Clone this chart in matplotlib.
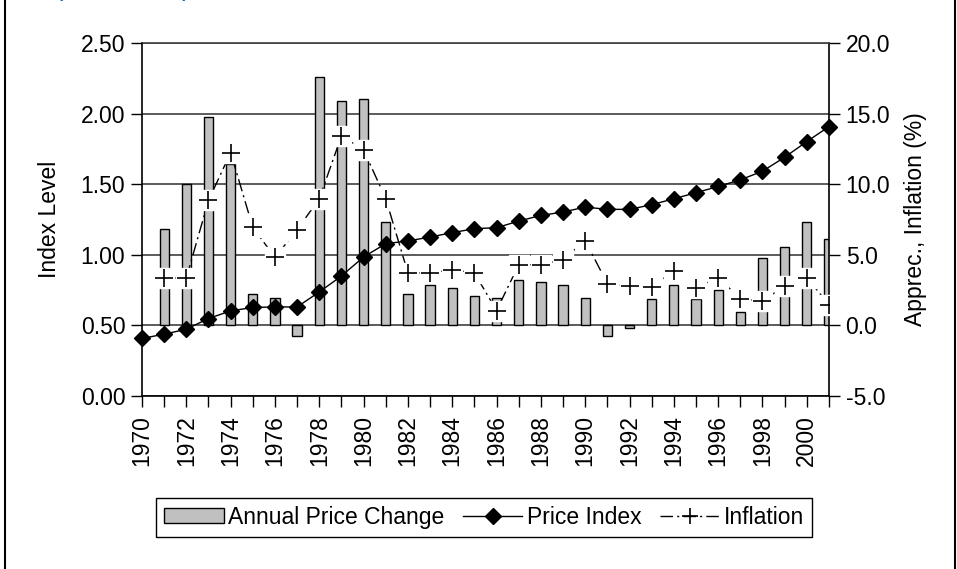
import matplotlib
matplotlib.use("Agg")
import matplotlib.pyplot as plt
from matplotlib.lines import Line2D
from matplotlib.patches import Patch

plt.rcParams['font.family'] = ['Liberation Sans', 'DejaVu Sans']

##data
years = list(range(1970, 2002))
price_index = [0.408, 0.438, 0.473, 0.549, 0.603, 0.627, 0.631, 0.631, 0.737, 0.850,
               0.985, 1.079, 1.098, 1.126, 1.157, 1.185, 1.192, 1.239, 1.279, 1.303,
               1.338, 1.322, 1.322, 1.355, 1.397, 1.440, 1.484, 1.531, 1.592, 1.691,
               1.802, 1.908]
change_years = list(range(1971, 2002))
annual_change = [6.8, 10.0, 14.75, 11.4, 2.26, 1.93, -0.78, 17.6, 15.9, 16.06,
                 7.35, 2.26, 2.83, 2.66, 2.07, 1.93, 3.23, 3.04, 2.83, 1.91,
                 -0.78, -0.21, 1.9, 2.86, 1.9, 2.5, 0.95, 4.81, 5.55, 7.29, 6.14]
inflation = [3.36, 3.36, 8.85, 12.24, 6.94, 4.82, 6.78, 8.97, 13.42, 12.43,
             8.97, 3.72, 3.72, 3.95, 3.72, 1.05, 4.3, 4.3, 4.66, 6.0,
             2.96, 2.77, 2.74, 3.86, 2.67, 3.38, 1.9, 1.71, 2.81, 3.38, 1.48]
left_ticks = [0.0, 0.5, 1.0, 1.5, 2.0, 2.5]
right_ticks = [-5, 0, 5, 10, 15, 20]

FS = 16.5
fig = plt.figure(figsize=(9.57, 5.69), dpi=100)
ax = fig.add_axes([0.1484, 0.304, 0.7178, 0.6204])
axp = ax.twinx()
axi = ax.twinx()

##bars on the % scale (bottom layer)
ax.bar(change_years, annual_change, width=0.42, color='#c0c0c0',
       edgecolor='black', linewidth=1.0, zorder=2)
ax.set_ylim(-5, 20)
ax.set_yticks(right_ticks)
ax.set_yticklabels(['%.1f' % t for t in right_ticks])
ax.yaxis.tick_right()
ax.yaxis.set_label_position('right')
ax.set_ylabel('Apprec., Inflation (%)', fontsize=FS, labelpad=10)
ax.grid(axis='y', color='#404040', linewidth=1.2, zorder=1)
ax.set_axisbelow(True)

ax.set_xlim(1970, 2001)
ax.set_xticks(years)
ax.set_xticklabels([str(y) if (y % 2 == 0 and y <= 2000) else '' for y in years],
                   rotation=90)
ax.tick_params(axis='both', labelsize=FS, length=8, width=1.0, direction='out', pad=4)
ax.tick_params(axis='x', pad=6)
for s in ['left', 'right', 'bottom', 'top']:
    ax.spines[s].set_linewidth(1.2)
ax.spines['top'].set_color('#404040')

##price index on the left scale
axp.plot(years, price_index, color='black', linewidth=1.0, marker='D',
         markersize=8, markerfacecolor='black', clip_on=False, zorder=3)
axp.set_ylim(0, 2.5)
axp.set_yticks(left_ticks)
axp.set_yticklabels(['%.2f' % t for t in left_ticks])
axp.yaxis.tick_left()
axp.yaxis.set_label_position('left')
axp.set_ylabel('Index Level', fontsize=FS, labelpad=14)
axp.tick_params(axis='y', labelsize=FS, length=8, width=1.0, direction='out', pad=4)
for s in axp.spines.values():
    s.set_visible(False)

##inflation on top, white boxes behind the plus markers
axi.set_ylim(-5, 20)
axi.set_yticks([])
for s in axi.spines.values():
    s.set_visible(False)
axi.plot(change_years, inflation, color='black', linewidth=1.0,
         linestyle=(0, (9, 3, 1.5, 3)), zorder=3)
axi.plot(change_years, inflation, linestyle='none', marker='s', markersize=14,
         markerfacecolor='white', markeredgecolor='white', zorder=4)
axi.plot(change_years, inflation, linestyle='none', marker='+', markersize=13,
         markeredgewidth=1.2, color='black', zorder=5)

##legend
handles = [Patch(facecolor='#c0c0c0', edgecolor='black', linewidth=1.0),
           Line2D([], [], color='black', linewidth=1.0, marker='D', markersize=8),
           Line2D([], [], color='black', linewidth=1.0, linestyle=(0, (9, 3, 1.5, 3)),
                  marker='+', markersize=12, markeredgewidth=1.2)]
leg = fig.legend(handles, ['Annual Price Change', 'Price Index', 'Inflation'],
                 loc='center', bbox_to_anchor=(0.506, 0.091), ncol=3, fontsize=FS,
                 frameon=True, fancybox=False, edgecolor='black', framealpha=1,
                 handlelength=2.6, handletextpad=0.2, columnspacing=0.8,
                 borderpad=0.35, handleheight=0.6)
leg.get_frame().set_linewidth(1.0)

##frame lines and clipped heading
fig.add_artist(Line2D([5 / 957, 5 / 957], [0, 1], color='black', linewidth=1.5))
fig.add_artist(Line2D([955 / 957, 955 / 957], [0, 1], color='black', linewidth=1.5))
fig.text(55 / 957, 1 + 4 / 569, '(1970-2001)', color='#1a56c4', fontsize=18,
         ha='left', va='baseline')

fig.savefig('out.png', dpi=100)
